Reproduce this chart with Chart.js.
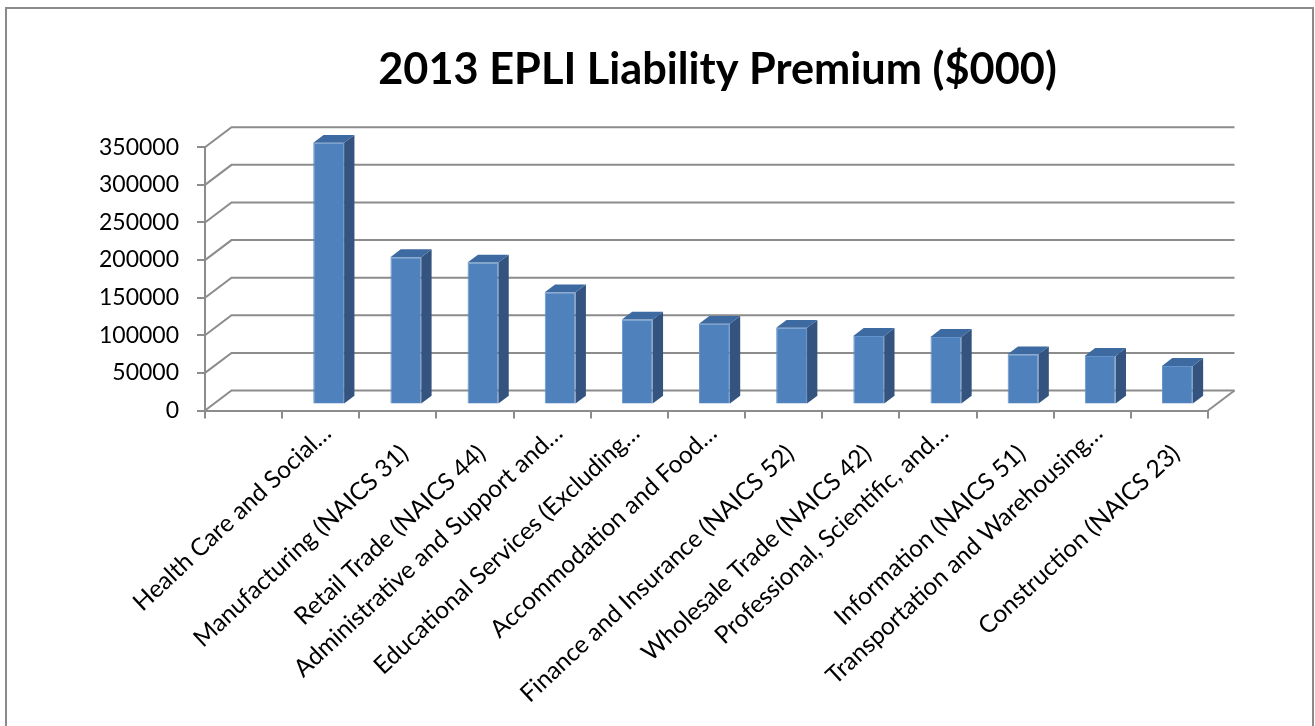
<!DOCTYPE html>
<html><head><meta charset="utf-8">
<script src="https://cdn.jsdelivr.net/npm/chart.js@4.4.0/dist/chart.umd.min.js"></script>
<style>html,body{margin:0;padding:0;background:#fff;overflow:hidden}#wrap{position:relative;width:1315px;height:726px}</style>
</head><body><div id="wrap"><canvas id="c" width="1315" height="726"></canvas></div>
<script>
const categories = ['', 'Health Care and Social\u2026', 'Manufacturing (NAICS 31)', 'Retail Trade (NAICS 44)',
  'Administrative and Support and\u2026', 'Educational Services (Excluding\u2026', 'Accommodation and Food\u2026',
  'Finance and Insurance (NAICS 52)', 'Wholesale Trade (NAICS 42)', 'Professional, Scientific, and\u2026',
  'Information (NAICS 51)', 'Transportation and Warehousing\u2026', 'Construction (NAICS 23)'];
const premiums = [null, 347900, 195900, 188800, 149300, 113000, 107200, 101900, 91200, 89900, 66900, 64600, 51300];
const yTickValues = [0, 50000, 100000, 150000, 200000, 250000, 300000, 350000];
const chartTitle = '2013 EPLI Liability Premium ($000)';

const GRID = '#8c8c8c';
const FRONT = '#4f81bd', SIDE = '#34547f', TOPC = '#3d6aa1';
const DEPTH = {x: 26.5, y: -20};
const BAR_FRONT = 0.3, BAR_DEPTH = 0.39;
const FONT = 'Lato, "Open Sans", sans-serif';
const LABEL_SIZE = 24.4;

const threeD = {
  id: 'threeD',
  beforeDraw(chart) {
    const ctx = chart.ctx;
    ctx.save();
    ctx.fillStyle = '#fff';
    ctx.fillRect(0, 0, chart.width, chart.height);
    ctx.strokeStyle = '#8a8a8a';
    ctx.lineWidth = 2;
    ctx.strokeRect(6, 8, 1307, 760);
    ctx.restore();
  },
  beforeDatasetsDraw(chart) {
    const {ctx, chartArea: a, scales: {y}} = chart;
    ctx.save();
    ctx.strokeStyle = GRID;
    ctx.lineWidth = 2;
    y.ticks.forEach(t => {
      const py = y.getPixelForValue(t.value);
      ctx.beginPath();
      ctx.moveTo(a.left, py);
      ctx.lineTo(a.left + DEPTH.x, py + DEPTH.y);
      ctx.lineTo(a.right + DEPTH.x, py + DEPTH.y);
      ctx.stroke();
    });
    const p0 = y.getPixelForValue(0);
    ctx.beginPath();
    ctx.moveTo(a.right, p0);
    ctx.lineTo(a.right + DEPTH.x, p0 + DEPTH.y);
    ctx.stroke();
    ctx.restore();
    ctx.save();
    ctx.translate(DEPTH.x * BAR_FRONT, DEPTH.y * BAR_FRONT);
  },
  afterDatasetsDraw(chart) {
    const ctx = chart.ctx;
    ctx.restore();
    const meta = chart.getDatasetMeta(0);
    const ox = DEPTH.x * BAR_FRONT, oy = DEPTH.y * BAR_FRONT;
    const dx = DEPTH.x * BAR_DEPTH, dy = DEPTH.y * BAR_DEPTH;
    ctx.save();
    meta.data.forEach((bar, i) => {
      if (premiums[i] == null) return;
      const p = bar.getProps(['x', 'y', 'base', 'width'], true);
      const L = p.x - p.width / 2 + ox, R = p.x + p.width / 2 + ox, T = p.y + oy, B = p.base + oy;
      ctx.fillStyle = SIDE;
      ctx.beginPath();
      ctx.moveTo(R, T); ctx.lineTo(R + dx, T + dy); ctx.lineTo(R + dx, B + dy); ctx.lineTo(R, B);
      ctx.closePath(); ctx.fill();
      ctx.fillStyle = TOPC;
      ctx.beginPath();
      ctx.moveTo(L, T); ctx.lineTo(L + dx, T + dy); ctx.lineTo(R + dx, T + dy); ctx.lineTo(R, T);
      ctx.closePath(); ctx.fill();
    });
    ctx.restore();
  }
};

new Chart(document.getElementById('c'), {
  type: 'bar',
  data: {
    labels: categories,
    datasets: [{
      data: premiums,
      backgroundColor: FRONT,
      borderColor: '#6594cc',
      borderWidth: 1,
      barPercentage: 0.4,
      categoryPercentage: 1.0
    }]
  },
  options: {
    responsive: false,
    animation: false,
    devicePixelRatio: 1,
    layout: {padding: {left: 96, right: -24, top: 0, bottom: 0}},
    plugins: {
      legend: {display: false},
      tooltip: {enabled: false},
      title: {
        display: true,
        fullSize: true,
        text: chartTitle,
        color: '#000',
        font: {family: FONT, size: 43.3, weight: 'bold'},
        padding: {top: 44, bottom: 51.3}
      }
    },
    scales: {
      x: {
        offset: true,
        grid: {offset: true, drawOnChartArea: false, tickLength: 8, color: GRID, lineWidth: 2},
        border: {display: true, color: GRID, width: 2},
        ticks: {
          autoSkip: false, maxRotation: 43, minRotation: 43, padding: 0, labelOffset: 6.5,
          color: '#000',
          font: (c) => {
            const lbl = categories[c.index] || '';
            const truncated = lbl.endsWith('\u2026');
            return {family: FONT, size: LABEL_SIZE, lineHeight: truncated ? 1.2 : 3.5};
          }
        },
        afterFit(s) { s.height = 315.5; }
      },
      y: {
        min: 0, max: 350000,
        afterBuildTicks(s) { s.ticks = yTickValues.map(v => ({value: v})); },
        grid: {drawOnChartArea: false, tickLength: 8, color: GRID, lineWidth: 2},
        border: {display: true, color: GRID, width: 2},
        ticks: {
          padding: 18, color: '#000', font: {family: FONT, size: 23},
          callback: v => String(v)
        },
        afterFit(s) { s.width = 109; }
      },
      yRight: {
        position: 'right',
        display: true,
        grid: {display: false},
        border: {display: false},
        ticks: {display: false},
        afterFit(s) { s.width = 131; }
      }
    }
  },
  plugins: [threeD]
});
</script></body></html>
